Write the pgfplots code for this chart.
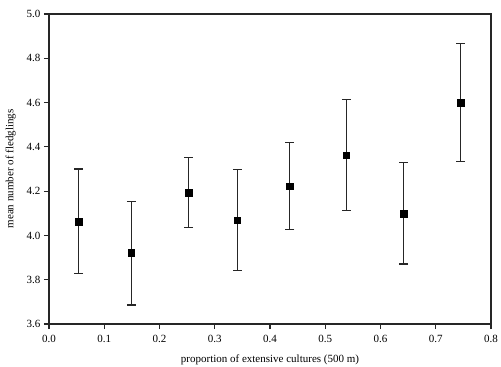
\documentclass[border=0pt]{standalone}
\usepackage{pgfplots}
\pgfplotsset{compat=1.18}
\usepackage{fontspec}
\setmainfont{Liberation Serif}
\begin{document}
\begin{tikzpicture}
\begin{axis}[
  scale only axis,
  width=442pt, height=310pt,
  xmin=0, xmax=0.8, ymin=3.6, ymax=5.0,
  xtick={0,0.1,...,0.8}, ytick={3.6,3.8,...,5.0},
  xtick pos=left, ytick pos=left,
  tick align=outside,
  major tick length=5pt,
  tick style={black!85, line width=1.1pt},
  axis line style={black!85, line width=1.1pt},
  xticklabel style={/pgf/number format/fixed, /pgf/number format/fixed zerofill, /pgf/number format/precision=1, yshift=-3pt},
  yticklabel style={/pgf/number format/fixed, /pgf/number format/fixed zerofill, /pgf/number format/precision=1},
  /pgf/number format/assume math mode=true,
  tick label style={font=\fontsize{11}{13}\selectfont},
  label style={font=\fontsize{11}{13}\selectfont},
  xlabel={proportion of extensive cultures (500 m)},
  ylabel={mean number of fledglings},
  xlabel style={yshift=-5pt},
  ylabel style={yshift=4pt},
]
\addplot[black, only marks, mark=square*, mark size=3.2pt,
  error bars/.cd, y dir=both, y explicit,
  error bar style={line width=1.1pt, black!85},
  error mark options={rotate=90, mark size=4.4pt, line width=1.1pt, black!85}]
  table[x=x, y=y, y error plus=ep, y error minus=em] {
x y ep em
0.054 4.062 0.238 0.232
0.149 3.922 0.233 0.236
0.253 4.193 0.158 0.158
0.341 4.068 0.228 0.225
0.436 4.223 0.197 0.197
0.538 4.363 0.252 0.250
0.642 4.098 0.231 0.227
0.745 4.600 0.266 0.267
};
\end{axis}
\pgfresetboundingbox
\path[use as bounding box] (-49pt,-43pt) rectangle (452pt,324pt);
\end{tikzpicture}
\end{document}
